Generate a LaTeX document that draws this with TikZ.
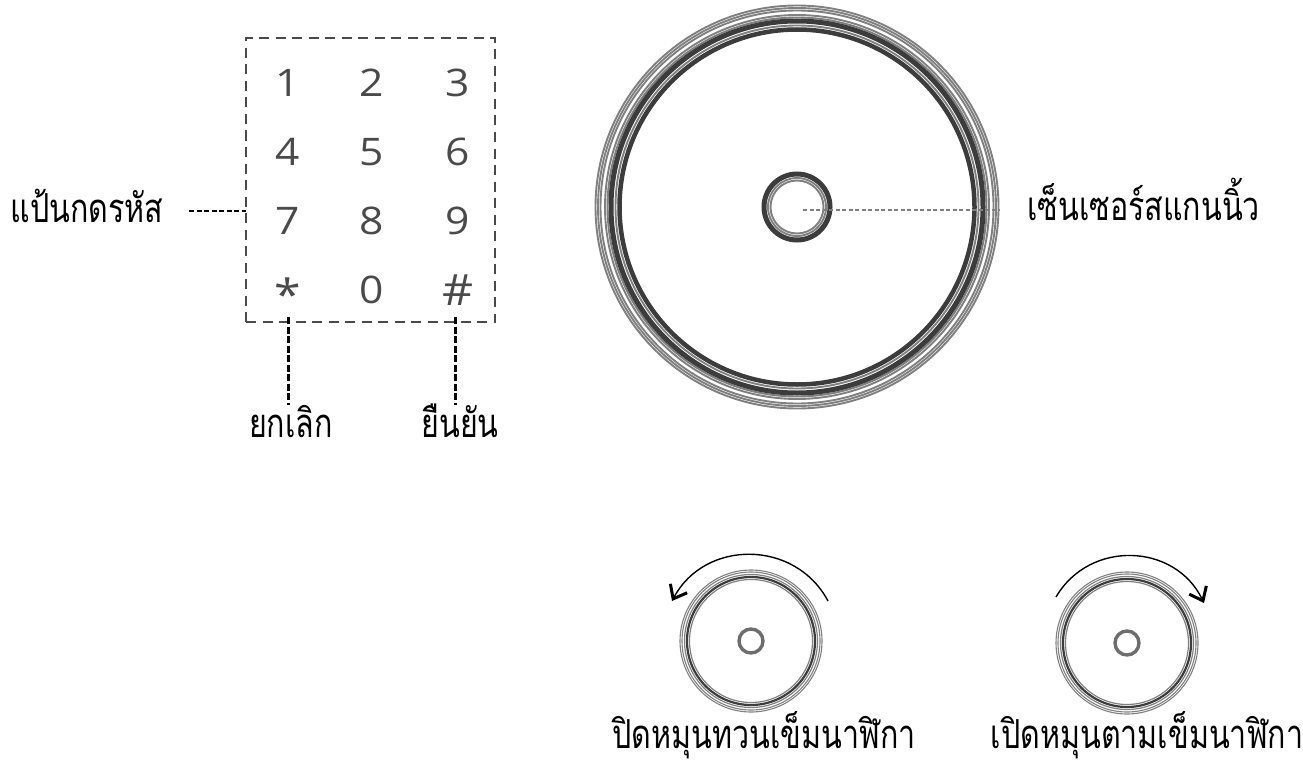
\documentclass[tikz,border=0pt]{standalone}
\usepackage{fontspec}
\usetikzlibrary{arrows.meta,positioning}
\newfontfamily\thaifont[Script=Thai,FakeStretch=0.76]{Loma}
\newfontfamily\keyfont[FakeStretch=1.12]{Open Sans}
\definecolor{KeyGray}{HTML}{4A4A4A}
\definecolor{RingDark}{HTML}{3C3C3C}
\definecolor{RingGray}{HTML}{808080}

\begin{document}
\begin{tikzpicture}[
  x=1pt,y=-1pt,
  lbl/.style={anchor=base,inner sep=0pt,font=\thaifont\fontsize{40}{50}\selectfont},
  key/.style={inner sep=0pt,text=KeyGray,font=\keyfont\fontsize{38}{40}\selectfont},
  bigkey/.style={key,font=\keyfont\fontsize{43}{45}\selectfont},
  padbox/.style={draw=KeyGray,dash pattern=on 10pt off 6.5pt,line width=2.6pt,
    minimum width=249pt,minimum height=284pt,inner sep=0pt},
  lead/.style={black,dash pattern=on 5pt off 2.5pt,line width=2.2pt},
  heavylead/.style={black,dash pattern=on 7pt off 2.5pt,line width=3pt},
  thinlead/.style={RingGray,dash pattern=on 4pt off 2.5pt,line width=1.8pt},
  turn/.style={-{Straight Barb[length=12pt,width=19pt,line width=3pt]},line width=1.4pt,looseness=1.15},
  ring/.style={draw=RingGray,line width=1.9pt},
  darkring/.style={draw=RingDark}
]
\useasboundingbox (0,0) rectangle (1303,765);
% keypad
\node[padbox] (keypad) at (370.5,180) {};
\node[key] at (288,83) (n1) {1};
\node[key] at (372,83) (n2) {2};
\node[key] at (458,83) (n3) {3};
\node[key] at (288,152) (n4) {4};
\node[key] at (372,152) (n5) {5};
\node[key] at (458,152) (n6) {6};
\node[key] at (288,221) (n7) {7};
\node[key] at (372,221) (n8) {8};
\node[key] at (458,221) (n9) {9};
\node[bigkey] at (288,294) (nstar) {*};
\node[key] at (372,290) (n0) {0};
\node[bigkey] at (458,290) (nhash) {\#};
\node[lbl] (padlabel) at (87,222) {แป้นกดรหัส};
\node[lbl] (cancel) at (291,437) {ยกเลิก};
\node[lbl] (confirm) at (460,437) {ยืนยัน};
\coordinate (padfrom) at (189,211);
\coordinate (padto) at (246,211);
\coordinate (cancelfrom) at (288,317);
\coordinate (cancelto) at (288,405);
\coordinate (confirmfrom) at (455,317);
\coordinate (confirmto) at (455,405);
\draw[lead] (padfrom)--(padto);
\draw[heavylead] (cancelfrom)--(cancelto);
\draw[heavylead] (confirmfrom)--(confirmto);
% main reader
\coordinate (reader) at (797,207);
\foreach \r in {201.5,199,196.5,192,189.5,181.5} \draw[ring] (reader) circle (\r);
\foreach \r/\w in {186/5,177.5/4.5,33/5} \draw[darkring,line width=\w] (reader) circle (\r);
\foreach \r in {29,26.5} \draw[ring] (reader) circle (\r);
\coordinate (sensorfrom) at (803,210);
\coordinate (sensorto) at (1000,210);
\node[lbl] (sensorlabel) at (1143.5,220) {เซ็นเซอร์สแกนนิ้ว};
\draw[thinlead] (sensorfrom)--(sensorto);
% turning directions
\foreach \cx/\cy in {751/641,1127/643}{
  \coordinate (w) at (\cx,\cy);
  \foreach \r in {71,69} \draw[RingGray,line width=1.1pt] (w) circle (\r);
  \foreach \r in {66.5,61.5} \draw[RingGray,line width=1.2pt] (w) circle (\r);
  \draw[darkring,line width=2.2pt] (w) circle (64);
  \draw[RingGray!85!black,line width=3.4pt] (w) circle (12);
}
\coordinate (ccwfrom) at (828,601);
\coordinate (ccwto) at (672,601);
\coordinate (cwfrom) at (1056,597);
\coordinate (cwto) at (1204,603);
\draw[turn] (ccwfrom) to[bend right=62] (ccwto);
\draw[turn] (cwfrom) to[bend left=62] (cwto);
\node[lbl] (closelabel) at (764,748) {ปิดหมุนทวนเข็มนาฬิกา};
\node[lbl] (openlabel) at (1147,748) {เปิดหมุนตามเข็มนาฬิกา};
\end{tikzpicture}
\end{document}
